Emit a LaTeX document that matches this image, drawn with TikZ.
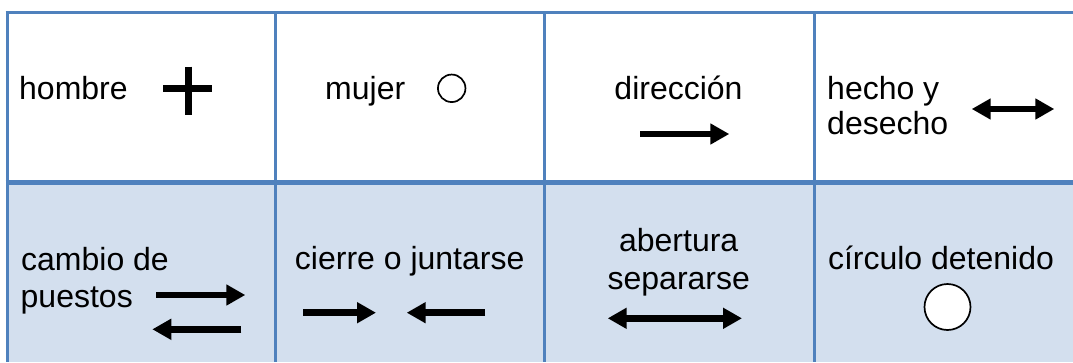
\documentclass[tikz,border=0pt]{standalone}
\usepackage{fontspec}
\setmainfont{Liberation Sans}
\usepackage{tikz}
\usetikzlibrary{arrows.meta}

\definecolor{rejilla}{HTML}{4F81BD}
\definecolor{celda}{HTML}{D3DFEE}

\tikzset{
  txt/.style={font=\fontsize{32}{36}\selectfont,inner sep=0pt},
  flecha/.style={line width=6.5pt,-{Triangle[length=19pt,width=20pt]}},
  dflecha/.style={line width=6.5pt,{Triangle[length=19pt,width=20pt]}-{Triangle[length=19pt,width=20pt]}},
}

\begin{document}
\begin{tikzpicture}[x=1pt,y=-1pt]
        \useasboundingbox (0,0) rectangle (1073,362);
        % cuadro
        \fill[celda] (7,182) rectangle (1073,362);
        \draw[rejilla,line width=3pt] (5.5,12.5) -- (1073,12.5);
        \draw[rejilla,line width=5pt] (5.5,182) -- (1073,182);
        \foreach \x in {7,275,544.5,814}
          \draw[rejilla,line width=3pt] (\x,11) -- (\x,362);
        \begin{scope}[every node/.style={txt}]
          \node[anchor=base west] (h) at (19,99) {hombre};
          \node[anchor=base west] (m) at (325,99) {mujer};
          \node[anchor=base] (dir) at (678.5,99.3) {dirección};
          \node[anchor=base west] (hy) at (827,99.3) {hecho y};
          \node[anchor=base west] (hd) at (827,134) {desecho};
          \node[anchor=base west] (c1) at (21,270) {cambio de};
          \node[anchor=base west] (c2) at (20.5,307.3) {puestos};
          \node[anchor=base] (ci) at (409.7,269.3) {cierre o juntarse};
          \node[anchor=base] (ab) at (678.7,251.7) {abertura};
          \node[anchor=base] (se) at (678.8,289) {separarse};
          \node[anchor=base] (cd) at (941,269.3) {círculo detenido};
        \end{scope}
        \begin{scope}[every node/.style={draw,circle,inner sep=0pt,line width=1.7pt}]
          \node[minimum size=27.5pt] (mo) at (451.7,88.3) {};
          \node[minimum size=46pt,fill=white] (co) at (947.5,307) {};
        \end{scope}
        % signo de hombre
        \coordinate (p1) at (163.3,88);
        \coordinate (p2) at (212,88);
        \coordinate (p3) at (188,66.7);
        \coordinate (p4) at (188,115);
        % puntas de flechas
        \coordinate (d1) at (640,134);
        \coordinate (d2) at (729.3,134);
        \coordinate (e1) at (971.7,109);
        \coordinate (e2) at (1054.3,109);
        \coordinate (f1) at (156,295);
        \coordinate (f2) at (245.3,295);
        \coordinate (g1) at (241.3,329.3);
        \coordinate (g2) at (152.3,329.3);
        \coordinate (k1) at (303.3,312.7);
        \coordinate (k2) at (376,312.7);
        \coordinate (k3) at (485,312.7);
        \coordinate (k4) at (406.7,312.7);
        \coordinate (s1) at (607.7,318.3);
        \coordinate (s2) at (742,318.3);
        \begin{scope}[every edge/.style={draw=black,line width=7pt}]
          \path (p1) edge (p2);
          \path (p3) edge (p4);
        \end{scope}
        \begin{scope}[every edge/.style={draw=black,flecha}]
          \path (d1) edge (d2);
          \path (f1) edge (f2);
          \path (g1) edge (g2);
          \path (k1) edge (k2);
          \path (k3) edge (k4);
        \end{scope}
        \begin{scope}[every edge/.style={draw=black,dflecha}]
          \path (e1) edge (e2);
          \path (s1) edge (s2);
        \end{scope}
      \end{tikzpicture}
\end{document}
